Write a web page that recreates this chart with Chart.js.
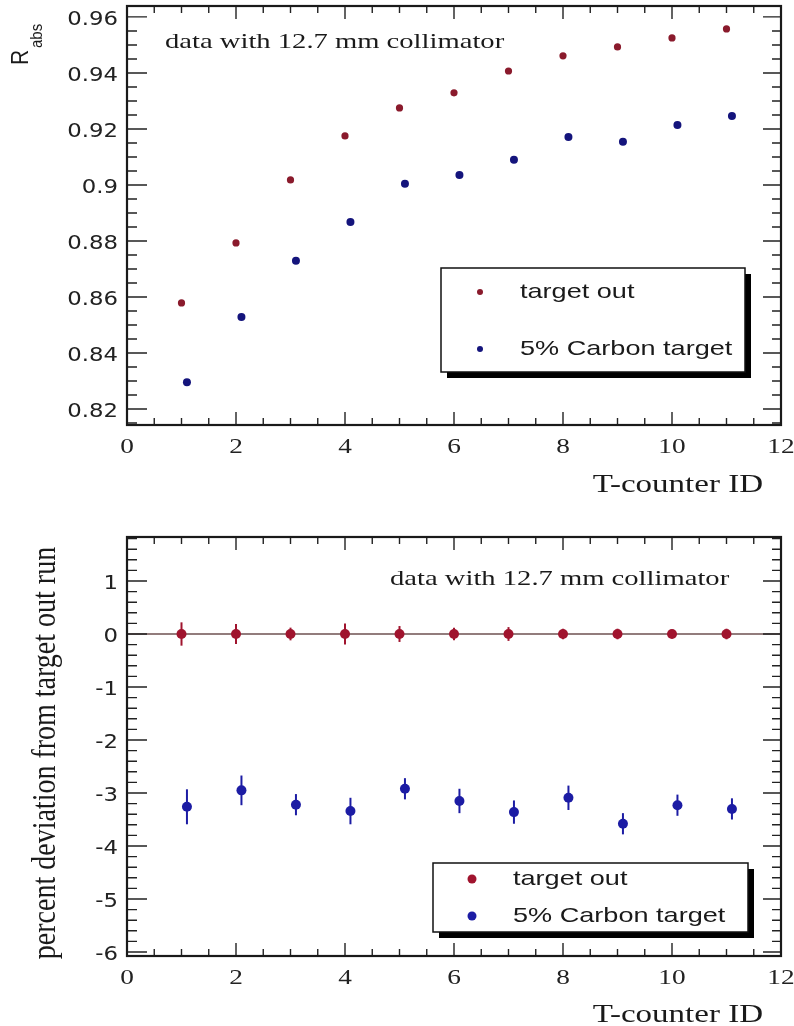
<!DOCTYPE html>
<html>
<head>
<meta charset="utf-8">
<script src="https://cdn.jsdelivr.net/npm/chart.js@4.4.1/dist/chart.umd.min.js"></script>
<style>
  body { margin: 0; background: #fff; }
  canvas { position: absolute; left: 0; }
  #rabs { top: 0; }
  #deviation { top: 505px; }
</style>
</head>
<body>
<canvas id="rabs" width="794" height="505"></canvas>
<canvas id="deviation" width="794" height="521"></canvas>
<script>
// T-counter channels; carbon points are shifted by 0.1 so they don't sit on top of the others
var counters = [1, 2, 3, 4, 5, 6, 7, 8, 9, 10, 11];
var countersCarbon = [1.1, 2.1, 3.1, 4.1, 5.1, 6.1, 7.1, 8.1, 9.1, 10.1, 11.1];

var rabsTargetOut = [0.8579, 0.8793, 0.9018, 0.9175, 0.9275, 0.9329, 0.9407, 0.9461, 0.9493, 0.9525, 0.9557];
var rabsCarbon = [0.8296, 0.8529, 0.8729, 0.8868, 0.9004, 0.9036, 0.9090, 0.9171, 0.9154, 0.9214, 0.9246];

var devTargetOut = [0, 0, 0, 0, 0, 0, 0, 0, 0, 0, 0];
var errTargetOut = [0.22, 0.19, 0.12, 0.2, 0.15, 0.12, 0.13, 0.1, 0.1, 0.08, 0.1];
var devCarbon = [-3.26, -2.95, -3.22, -3.34, -2.92, -3.15, -3.36, -3.09, -3.58, -3.23, -3.30];
var errCarbon = [0.33, 0.28, 0.2, 0.25, 0.2, 0.23, 0.22, 0.23, 0.2, 0.2, 0.2];

var ticksX = [0, 2, 4, 6, 8, 10, 12];
var ticksRabs = [0.82, 0.84, 0.86, 0.88, 0.9, 0.92, 0.94, 0.96];
var ticksDev = [1, 0, -1, -2, -3, -4, -5, -6];

var labelTargetOut = 'target out';
var labelCarbon = '5% Carbon target';
var note = 'data with 12.7 mm collimator';

function pts(xs, ys) {
  return xs.map(function (x, i) { return { x: x, y: ys[i] }; });
}

// text squeezed / stretched sideways
function wideText(ctx, text, x, y, align, sx) {
  ctx.save();
  ctx.translate(x, y);
  ctx.scale(sx, 1);
  ctx.textAlign = align;
  ctx.fillText(text, 0, 0);
  ctx.restore();
}

function upText(ctx, text, x, y, align, sx) {
  ctx.save();
  ctx.translate(x, y);
  ctx.rotate(-Math.PI / 2);
  ctx.scale(1, sx);
  ctx.textAlign = align;
  ctx.fillText(text, 0, 0);
  ctx.restore();
}

// frame, inward ticks on all four sides and tick labels
function drawFrame(chart, minorX, minorY) {
  var ctx = chart.ctx, a = chart.chartArea;
  var xs = chart.scales.x, ys = chart.scales.y;
  ctx.save();
  ctx.strokeStyle = '#222';
  ctx.lineWidth = 1.4;
  ctx.beginPath();
  for (var v = xs.min; v <= xs.max + 1e-9; v += minorX) {
    var px = xs.getPixelForValue(v);
    var major = Math.abs(v / 2 - Math.round(v / 2)) < 1e-6;
    var len = major ? 13 : 7;
    ctx.moveTo(px, a.bottom); ctx.lineTo(px, a.bottom - len);
    ctx.moveTo(px, a.top); ctx.lineTo(px, a.top + len);
  }
  var start = Math.ceil(ys.min / minorY - 1e-6) * minorY;
  var step = ys.ticks.length > 1 ? Math.abs(ys.ticks[1].value - ys.ticks[0].value) : 1;
  for (var w = start; w <= ys.max + 1e-9; w += minorY) {
    var py = ys.getPixelForValue(w);
    var r = w / step;
    var maj = Math.abs(r - Math.round(r)) < 1e-4;
    ctx.moveTo(a.left, py); ctx.lineTo(a.left + (maj ? 20 : 10), py);
    ctx.moveTo(a.right, py); ctx.lineTo(a.right - (maj ? 18 : 9), py);
  }
  ctx.stroke();
  ctx.lineWidth = 2.2;
  ctx.strokeStyle = '#1a1a1a';
  ctx.strokeRect(a.left, a.top, a.right - a.left, a.bottom - a.top);

  ctx.fillStyle = '#222';
  ctx.textBaseline = 'middle';
  ctx.font = '21px "Liberation Serif"';
  xs.ticks.forEach(function (t) {
    wideText(ctx, String(t.value), xs.getPixelForValue(t.value), a.bottom + 22, 'center', 1.3);
  });
  ctx.font = '19px "DejaVu Sans"';
  ys.ticks.forEach(function (t) {
    wideText(ctx, String(t.value), a.left - 9, ys.getPixelForValue(t.value) + 3, 'right', 1.2);
  });
  ctx.restore();
}

function drawLegend(chart, box, rows, textX, markerX, radius) {
  var ctx = chart.ctx;
  ctx.save();
  ctx.fillStyle = '#000';
  ctx.fillRect(box.x + 6, box.y + 6, box.w, box.h);
  ctx.fillStyle = '#fff';
  ctx.fillRect(box.x, box.y, box.w, box.h);
  ctx.strokeStyle = '#111';
  ctx.lineWidth = 1.5;
  ctx.strokeRect(box.x, box.y, box.w, box.h);
  ctx.font = '21px "Liberation Sans"';
  ctx.textBaseline = 'alphabetic';
  chart.data.datasets.forEach(function (ds, i) {
    ctx.fillStyle = ds.backgroundColor;
    ctx.beginPath();
    ctx.arc(markerX, rows[i] - 6, radius, 0, Math.PI * 2);
    ctx.fill();
    ctx.fillStyle = '#1a1a1a';
    wideText(ctx, ds.label, textX, rows[i], 'left', 1.29);
  });
  ctx.restore();
}

var errorBars = {
  id: 'errorBars',
  beforeDatasetsDraw: function (chart) {
    var ctx = chart.ctx, ys = chart.scales.y, xs = chart.scales.x;
    ctx.save();
    chart.data.datasets.forEach(function (ds) {
      if (!ds.errors) return;
      ctx.strokeStyle = ds.backgroundColor;
      ctx.lineWidth = 2;
      ds.data.forEach(function (p, i) {
        var px = xs.getPixelForValue(p.x);
        ctx.beginPath();
        ctx.moveTo(px, ys.getPixelForValue(p.y - ds.errors[i]));
        ctx.lineTo(px, ys.getPixelForValue(p.y + ds.errors[i]));
        ctx.stroke();
      });
    });
    ctx.restore();
  }
};

function axes(xMin, xMax, yMin, yMax, yTicks, yHeight) {
  return {
    x: {
      type: 'linear', min: xMin, max: xMax,
      grid: { display: false }, border: { display: false },
      ticks: { display: false },
      afterBuildTicks: function (s) { s.ticks = ticksX.map(function (v) { return { value: v }; }); },
      afterFit: function (s) { s.height = yHeight; }
    },
    y: {
      type: 'linear', min: yMin, max: yMax,
      grid: { display: false }, border: { display: false },
      ticks: { display: false },
      afterBuildTicks: function (s) {
        s.ticks = yTicks.map(function (v) { return { value: v }; });
      },
      afterFit: function (s) { s.width = 127; }
    }
  };
}

new Chart(document.getElementById('rabs'), {
  type: 'scatter',
  data: {
    datasets: [
      { label: labelTargetOut, data: pts(counters, rabsTargetOut), backgroundColor: '#8a1a2c', pointRadius: 3.6, borderWidth: 0 },
      { label: labelCarbon, data: pts(countersCarbon, rabsCarbon), backgroundColor: '#14147c', pointRadius: 4, borderWidth: 0 }
    ]
  },
  options: {
    responsive: false,
    animation: false,
    layout: { padding: { top: 6, right: 13, left: 0, bottom: 0 } },
    scales: axes(0, 12, 0.8143, 0.9639, ticksRabs, 80),
    plugins: { legend: { display: false }, tooltip: { enabled: false } }
  },
  plugins: [{
    id: 'decorTop',
    afterDatasetsDraw: function (chart) {
      var ctx = chart.ctx;
      drawFrame(chart, 0.5, 0.005);
      ctx.save();
      ctx.fillStyle = '#1a1a1a';
      ctx.font = '22px "Liberation Serif"';
      wideText(ctx, note, 165, 48, 'left', 1.3);
      ctx.font = '26px "Liberation Serif"';
      wideText(ctx, 'T-counter ID', 763, 492, 'right', 1.27);
      ctx.font = '21px "Liberation Sans"';
      upText(ctx, 'R', 28, 65, 'left', 1.1);
      ctx.font = '15px "Liberation Sans"';
      upText(ctx, 'abs', 42, 48, 'left', 1.1);
      ctx.restore();
      drawLegend(chart, { x: 441, y: 268, w: 304, h: 104 }, [298, 355], 520, 480, 3);
    }
  }]
});

new Chart(document.getElementById('deviation'), {
  type: 'scatter',
  data: {
    datasets: [
      { label: labelTargetOut, data: pts(counters, devTargetOut), errors: errTargetOut, backgroundColor: '#a0142e', pointRadius: 5, borderWidth: 0 },
      { label: labelCarbon, data: pts(countersCarbon, devCarbon), errors: errCarbon, backgroundColor: '#1c1ca4', pointRadius: 5, borderWidth: 0 }
    ]
  },
  options: {
    responsive: false,
    animation: false,
    layout: { padding: { top: 32, right: 13, left: 0, bottom: 0 } },
    scales: axes(0, 12, -6.075, 1.83, ticksDev, 70),
    plugins: { legend: { display: false }, tooltip: { enabled: false } }
  },
  plugins: [errorBars, {
    id: 'decorBottom',
    beforeDatasetsDraw: function (chart) {
      // reference line at zero deviation
      var ctx = chart.ctx, a = chart.chartArea;
      var y0 = chart.scales.y.getPixelForValue(0);
      ctx.save();
      ctx.strokeStyle = '#6e5050';
      ctx.lineWidth = 1.3;
      ctx.beginPath();
      ctx.moveTo(a.left, y0);
      ctx.lineTo(a.right, y0);
      ctx.stroke();
      ctx.restore();
    },
    afterDatasetsDraw: function (chart) {
      var ctx = chart.ctx;
      drawFrame(chart, 0.5, 0.2);
      ctx.save();
      ctx.fillStyle = '#1a1a1a';
      ctx.font = '22px "Liberation Serif"';
      wideText(ctx, note, 390, 80, 'left', 1.3);
      ctx.font = '26px "Liberation Serif"';
      wideText(ctx, 'T-counter ID', 763, 517, 'right', 1.27);
      ctx.font = '28px "Liberation Serif"';
      ctx.textBaseline = 'middle';
      upText(ctx, 'percent deviation from target out run', 46, 248, 'center', 1.2);
      ctx.restore();
      drawLegend(chart, { x: 433, y: 358, w: 315, h: 69 }, [380, 417], 513, 472, 4.5);
    }
  }]
});
</script>
</body>
</html>
